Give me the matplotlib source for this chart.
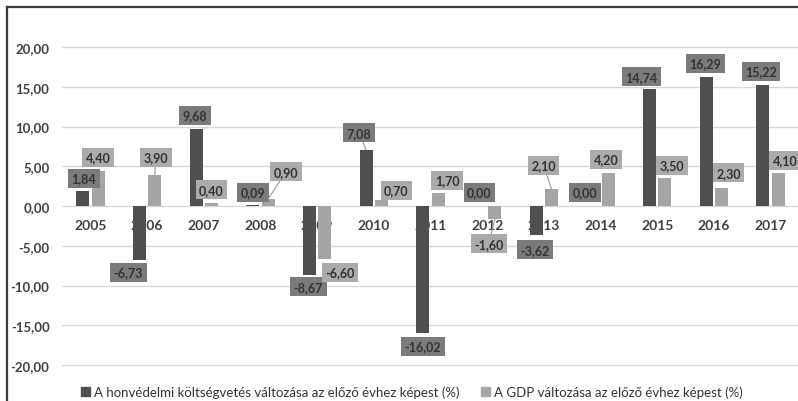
import numpy as np
import matplotlib
matplotlib.use("Agg")
import matplotlib.pyplot as plt
from matplotlib.lines import Line2D
from matplotlib.patches import Patch

plt.rcParams['font.family'] = ['Lato', 'DejaVu Sans']

years = ['2005', '2006', '2007', '2008', '2009', '2010', '2011', '2012',
         '2013', '2014', '2015', '2016', '2017']
defense = [1.84, -6.73, 9.68, 0.09, -8.67, 7.08, -16.02, 0.00, -3.62, 0.00, 14.74, 16.29, 15.22]
gdp = [4.40, 3.90, 0.40, 0.90, -6.60, 0.70, 1.70, -1.60, 2.10, 4.20, 3.50, 2.30, 4.10]
yticks = [-20, -15, -10, -5, 0, 5, 10, 15, 20]
legend_labels = ['A honvédelmi költségvetés változása az előző évhez képest (%)',
                 'A GDP változása az előző évhez képest (%)']

# label offsets (pixels) from bar end
def_dx = [1, -11, -1, 0, -1, -7, 0, 0, -1, -8, -8, -1, -2]
def_dy = [13, -12.5, 14, 13, -12, 17, -13, 14, -15, 14, 12, 13.5, 14]
gdp_dx = [0, 1, 0, 18, 15, 15, 9, -6, -8, -2, 7, 7, 7]
gdp_dy = [14, 18, 13, 27, -13.5, 10, 12.5, -25, 24, 13.5, 13, 15, 13]

W, H = 798, 402
fig = plt.figure(figsize=(W / 100, H / 100), dpi=100)
ax = fig.add_axes([62 / W, (H - 370) / H, (799 - 62) / W, (370 - 25) / H])

x = np.arange(len(years))
off = 0.136
bw = 0.23
dark = '#4f4f4f'
light = '#a5a5a5'
ax.bar(x - off, defense, bw, color=dark, zorder=1)
ax.bar(x + off, gdp, bw, color=light, zorder=1)

ax.set_xlim(-0.5, len(years) - 0.5)
ax.set_ylim(-20.5, 22.9)
ax.set_yticks(yticks)
ax.set_yticklabels([f"{v:.2f}".replace('.', ',') for v in yticks],
                   fontsize=9.5, fontweight='bold', color='#404040')
ax.tick_params(axis='y', length=0, pad=9)
ax.set_xticks([])
ax.grid(axis='y', color='#d9d9d9', lw=1)
ax.set_axisbelow(True)
for s in ax.spines.values():
    s.set_visible(False)

for i, yr in enumerate(years):
    ax.annotate(yr, xy=(i, 0), xytext=(0, -19), textcoords='offset pixels',
                ha='center', va='center', fontsize=10, fontweight='bold',
                color='#404040', zorder=0.6, annotation_clip=False)

def add_labels(vals, sign, dxs, dys, fc):
    for i, v in enumerate(vals):
        dx, dy = dxs[i], dys[i]
        arrow = None
        if abs(dy) >= 17:
            arrow = dict(arrowstyle='-', color='#9a9a9a', lw=0.8,
                         shrinkA=0, shrinkB=0)
        ax.annotate(f"{v:.2f}".replace('.', ','), xy=(i + sign * off, v),
                    xytext=(dx, dy), textcoords='offset pixels',
                    ha='center', va='center', fontsize=9, fontweight='bold',
                    color='#333333', zorder=5, annotation_clip=False,
                    bbox=dict(boxstyle='square,pad=0.28', fc=fc, ec='none'),
                    arrowprops=arrow)

add_labels(defense, -1, def_dx, def_dy, '#7b7b7b')
add_labels(gdp, 1, gdp_dx, gdp_dy, '#ababab')

handles = [Patch(color=dark), Patch(color=light)]
fig.legend(handles, legend_labels, loc='center', bbox_to_anchor=(412 / W, 9 / H),
           ncol=2, frameon=False, fontsize=9.5, handlelength=0.7, handleheight=0.7,
           handletextpad=0.3, columnspacing=1.6, labelcolor='#333333')

fig.add_artist(Line2D([7 / W, 7 / W], [0, 1 - 8 / H], transform=fig.transFigure,
                      color='#3a3a3a', lw=1.6))
fig.add_artist(Line2D([7 / W, 1], [1 - 8 / H, 1 - 8 / H], transform=fig.transFigure,
                      color='#3a3a3a', lw=1.6))

fig.savefig('out.png', dpi=100)
